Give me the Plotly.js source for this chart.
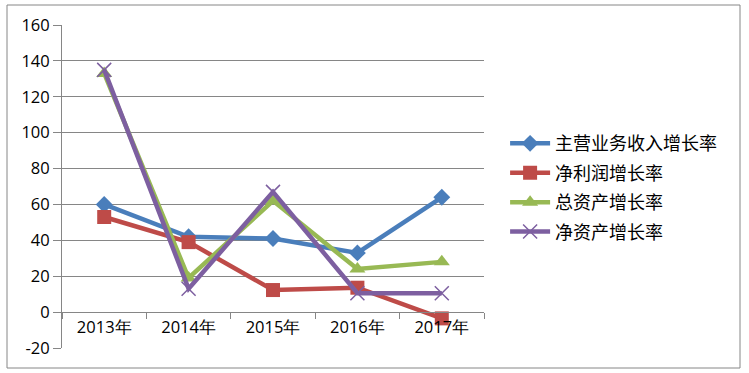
<!DOCTYPE html>
<html><head><meta charset="utf-8">
<script src="https://cdn.plot.ly/plotly-3.0.1.min.js"></script>
<style>body{margin:0;padding:0;background:#fff}#chart{width:749px;height:373px}</style>
</head><body><div id="chart"></div>
<script>
const years = ["2013年","2014年","2015年","2016年","2017年"];
const seriesNames = ["主营业务收入增长率","净利润增长率","总资产增长率","净资产增长率"];
const revenueGrowth = [60, 42, 41, 33, 64];
const profitGrowth = [53, 39, 12.3, 13.6, -3.5];
const assetGrowth = [133, 19, 62, 24, 28];
const equityGrowth = [135, 13, 67, 10.5, 10.5];
const yTicks = [-20, 0, 20, 40, 60, 80, 100, 120, 140, 160];

const colors = ["#4A7EBB", "#BE4B48", "#98B954", "#7D5FA0"];
const symbols = ["diamond", "square", "triangle-up", "x-thin"];
const sizes = [13, 14, 14, 14];
const allData = [revenueGrowth, profitGrowth, assetGrowth, equityGrowth];

const traces = allData.map((vals, i) => ({
  type: "scatter", mode: "lines+markers", name: seriesNames[i],
  x: years, y: vals,
  line: {color: colors[i], width: 4.5},
  marker: {symbol: symbols[i], size: sizes[i], color: colors[i],
           line: i === 3 ? {color: colors[i], width: 1.5} : {width: 0}},
  legendgroup: "g" + i
}));

const layout = {
  width: 749, height: 373,
  margin: {l: 62, r: 265, t: 25, b: 25},
  paper_bgcolor: "#fff", plot_bgcolor: "#fff",
  showlegend: true,
  font: {family: "Open Sans, Liberation Sans, sans-serif", size: 16, color: "#000"},
  xaxis: {
    type: "category", anchor: "free", position: 36/323,
    showline: true, linecolor: "#868686", linewidth: 1,
    ticks: "outside", ticklen: 6, tickcolor: "#868686", tickson: "boundaries",
    showgrid: false, zeroline: false,
    tickfont: {family: "Open Sans, sans-serif", size: 16.5, color: "#000"},
    range: [-0.5, 4.5], fixedrange: true
  },
  yaxis: {
    range: [-20, 160], tickvals: yTicks, ticktext: yTicks.map(String),
    showline: true, linecolor: "#868686", linewidth: 1,
    ticks: "outside", ticklen: 8, tickcolor: "#868686",
    showgrid: true, gridcolor: "#868686", gridwidth: 1, zeroline: false,
    tickfont: {family: "Open Sans, sans-serif", size: 16.5, color: "#000"},
    ticklabelstandoff: 0,
    fixedrange: true
  },
  legend: {
    x: 1.05, y: 0.69, xanchor: "left", yanchor: "top",
    traceorder: "grouped", tracegroupgap: 3, itemwidth: 40,
    font: {family: "Noto Sans CJK SC", size: 18, color: "#000"},
    bgcolor: "rgba(0,0,0,0)"
  },
  shapes: [{
    type: "rect", xref: "paper", yref: "paper",
    x0: (7-62)/422, x1: (740-62)/422, y0: (348-368)/323, y1: 1 + (25-5)/323,
    line: {color: "#868686", width: 1}, fillcolor: "rgba(0,0,0,0)", layer: "below"
  }]
};

Plotly.newPlot("chart", traces, layout, {displayModeBar: false, staticPlot: true});
</script></body></html>
